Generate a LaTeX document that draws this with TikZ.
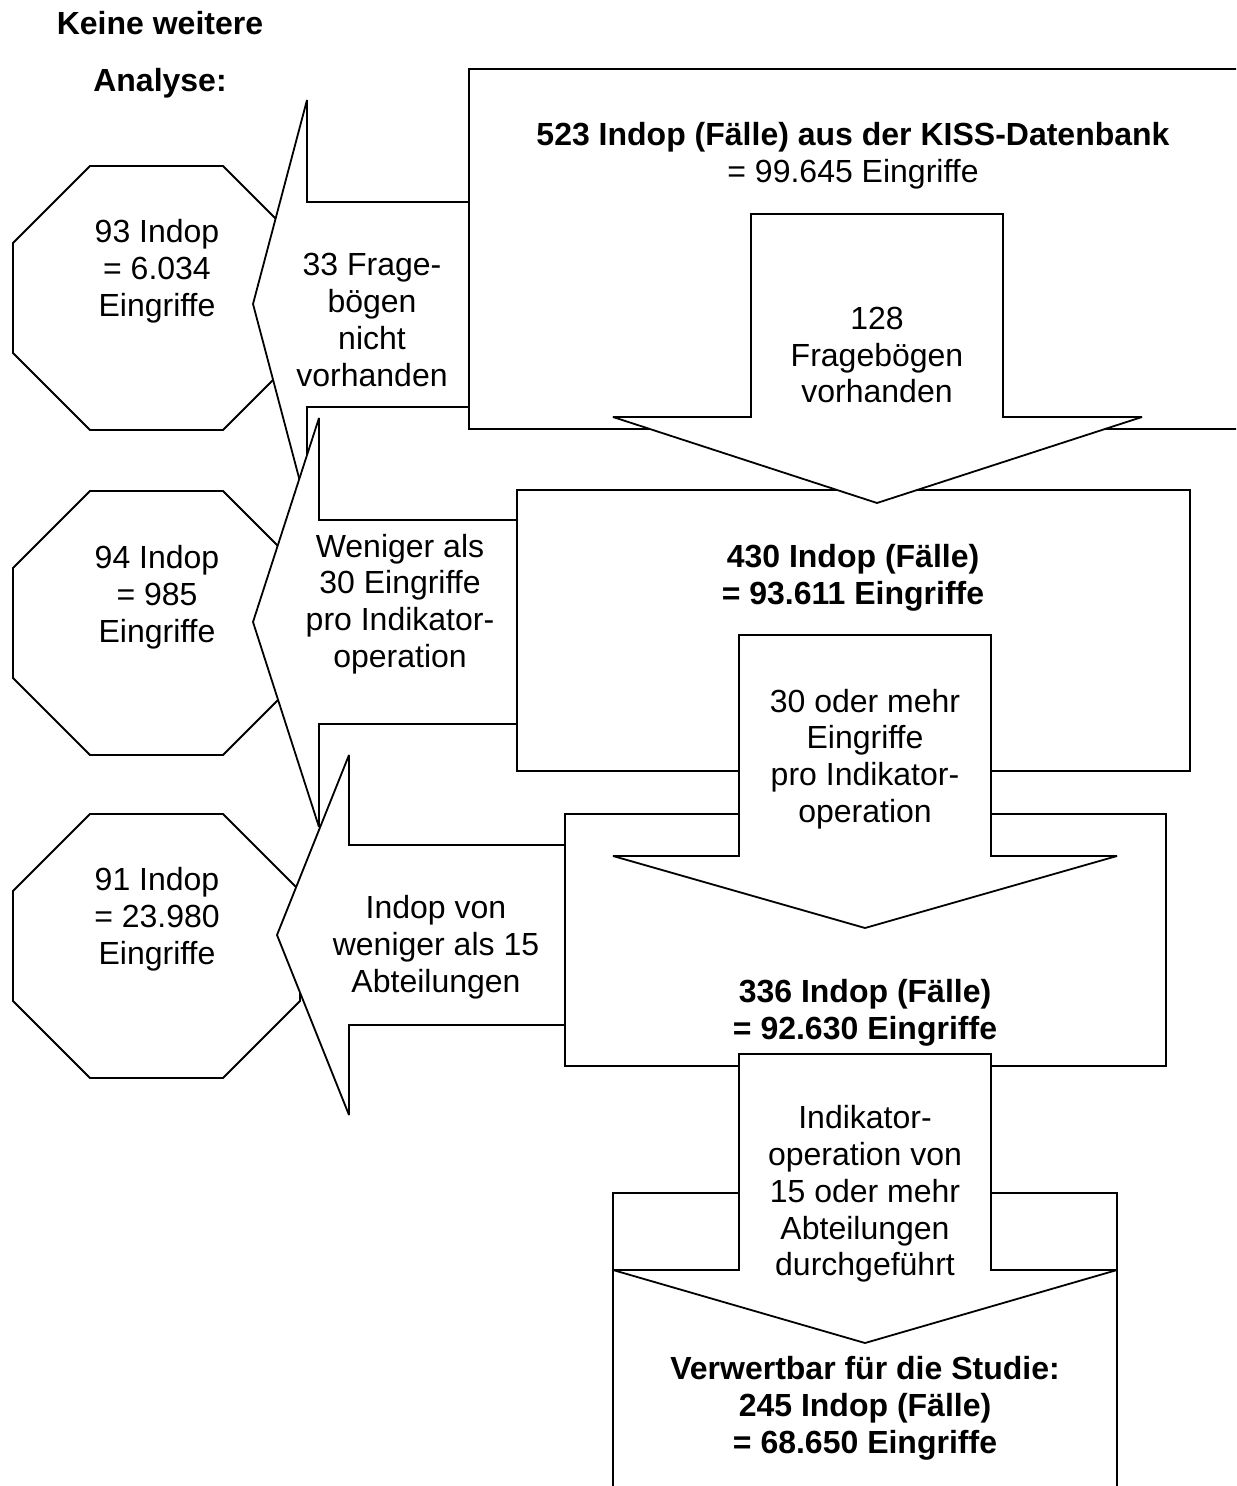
\documentclass[tikz,border=0pt]{standalone}
\usepackage{fontspec}
\setmainfont{Liberation Sans}

\begin{document}
\begin{tikzpicture}[x=0.5pt, y=-0.5pt,
    form/.style={draw, fill=white, line width=0.9pt, line join=miter, miter limit=3},
    txt/.style={align=center, inner sep=0pt, font=\fontsize{16}{18.4}\selectfont},
    fett/.style={txt, font=\fontsize{16}{18.4}\selectfont\bfseries}]

\clip (0,0) rectangle (1236,1486);

\draw[form] (90,166) -- (223,166) -- (300,243) -- (300,353) -- (223,430) -- (90,430) -- (13,353) -- (13,243) -- cycle;
\draw[form] (90,491) -- (223,491) -- (300,568) -- (300,678) -- (223,755) -- (90,755) -- (13,678) -- (13,568) -- cycle;
\draw[form] (90,814) -- (223,814) -- (300,891) -- (300,1001) -- (223,1078) -- (90,1078) -- (13,1001) -- (13,891) -- cycle;

\draw[form] (469,69) rectangle (1260,429);
\draw[form] (517,490) rectangle (1190,771);
\draw[form] (565,814) rectangle (1166,1066);
\draw[form] (613,1193) rectangle (1117,1520);

\draw[form] (469,202) -- (307,202) -- (307,100) -- (253,304) -- (307,508) -- (307,407) -- (469,407) -- cycle;
\draw[form] (517,520) -- (319,520) -- (319,418) -- (253,622) -- (319,827) -- (319,724) -- (517,724) -- cycle;
\draw[form] (565,845) -- (349,845) -- (349,755) -- (277,935) -- (349,1115) -- (349,1025) -- (565,1025) -- cycle;

\draw[form] (751,214) -- (1003,214) -- (1003,417) -- (1142,417) -- (877,503) -- (613,417) -- (751,417) -- cycle;
\draw[form] (739,635) -- (991,635) -- (991,856) -- (1117,856) -- (865,928) -- (613,856) -- (739,856) -- cycle;
\draw[form] (739,1054) -- (991,1054) -- (991,1270) -- (1117,1270) -- (865,1343) -- (613,1270) -- (739,1270) -- cycle;

\node[fett] (analyse) at (160,55) {Keine weitere\\[10.1pt]Analyse:};

\node[txt] (datenbank) at (853,156) {\textbf{523 Indop (Fälle) aus der KISS-Datenbank}\\= 99.645 Eingriffe};
\node[txt] (vorhanden) at (877,355) {128\\Fragebögen\\vorhanden};
\node[txt] (fehlend) at (372,320) {33 Frage-\\bögen\\nicht\\vorhanden};
\node[txt] (aus1) at (157,271) {93 Indop\\= 6.034\\Eingriffe};

\node[fett] (rest1) at (853,578) {430 Indop (Fälle)\\= 93.611 Eingriffe};
\node[txt] (mehr30) at (865,759) {30 oder mehr\\Eingriffe\\pro Indikator-\\operation};
\node[txt] (wenig30) at (400,604) {Weniger als\\30 Eingriffe\\pro Indikator-\\operation};
\node[txt] (aus2) at (157,597) {94 Indop\\= 985\\Eingriffe};

\node[fett] (rest2) at (865,1013) {336 Indop (Fälle)\\= 92.630 Eingriffe};
\node[txt] (wenig15) at (436,947) {Indop von\\weniger als 15\\Abteilungen};
\node[txt] (aus3) at (157,919) {91 Indop\\= 23.980\\Eingriffe};
\node[txt] (mehr15) at (865,1194) {Indikator-\\operation von\\15 oder mehr\\Abteilungen\\durchgeführt};

\node[fett] (studie) at (865,1408) {Verwertbar für die Studie:\\245 Indop (Fälle)\\= 68.650 Eingriffe};

\end{tikzpicture}
\end{document}
